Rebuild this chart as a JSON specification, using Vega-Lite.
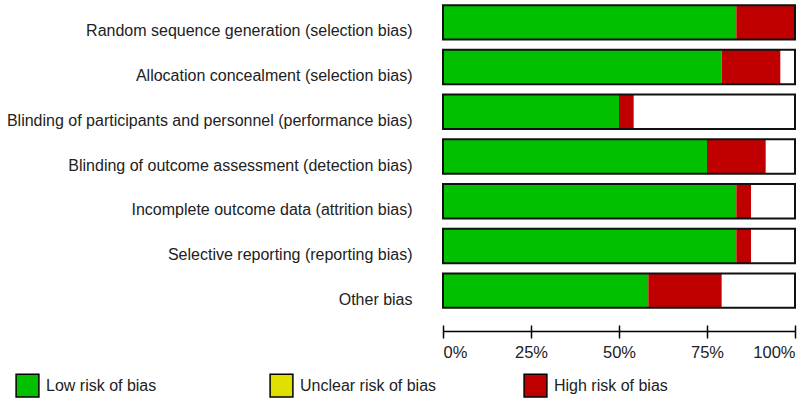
{
  "$schema": "https://vega.github.io/schema/vega-lite/v6.json",
  "autosize": "none",
  "width": 352,
  "height": 313,
  "padding": {"left": 443, "top": 0, "right": 5, "bottom": 93},
  "background": "white",
  "config": {"view": {"stroke": null}, "font": "Liberation Sans"},
  "data": {"values": [
    {"domain": "Random sequence generation (selection bias)", "risk": "Low risk of bias", "pct": 83.33},
    {"domain": "Random sequence generation (selection bias)", "risk": "Unclear risk of bias", "pct": 0},
    {"domain": "Random sequence generation (selection bias)", "risk": "High risk of bias", "pct": 16.67},
    {"domain": "Allocation concealment (selection bias)", "risk": "Low risk of bias", "pct": 79.17},
    {"domain": "Allocation concealment (selection bias)", "risk": "Unclear risk of bias", "pct": 4.17},
    {"domain": "Allocation concealment (selection bias)", "risk": "High risk of bias", "pct": 16.66},
    {"domain": "Blinding of participants and personnel (performance bias)", "risk": "Low risk of bias", "pct": 50},
    {"domain": "Blinding of participants and personnel (performance bias)", "risk": "Unclear risk of bias", "pct": 45.83},
    {"domain": "Blinding of participants and personnel (performance bias)", "risk": "High risk of bias", "pct": 4.17},
    {"domain": "Blinding of outcome assessment (detection bias)", "risk": "Low risk of bias", "pct": 75},
    {"domain": "Blinding of outcome assessment (detection bias)", "risk": "Unclear risk of bias", "pct": 8.33},
    {"domain": "Blinding of outcome assessment (detection bias)", "risk": "High risk of bias", "pct": 16.67},
    {"domain": "Incomplete outcome data (attrition bias)", "risk": "Low risk of bias", "pct": 83.33},
    {"domain": "Incomplete outcome data (attrition bias)", "risk": "Unclear risk of bias", "pct": 12.5},
    {"domain": "Incomplete outcome data (attrition bias)", "risk": "High risk of bias", "pct": 4.17},
    {"domain": "Selective reporting (reporting bias)", "risk": "Low risk of bias", "pct": 83.33},
    {"domain": "Selective reporting (reporting bias)", "risk": "Unclear risk of bias", "pct": 12.5},
    {"domain": "Selective reporting (reporting bias)", "risk": "High risk of bias", "pct": 4.17},
    {"domain": "Other bias", "risk": "Low risk of bias", "pct": 58.33},
    {"domain": "Other bias", "risk": "Unclear risk of bias", "pct": 20.84},
    {"domain": "Other bias", "risk": "High risk of bias", "pct": 20.83}
  ]},
  "resolve": {"axis": {"x": "independent"}},
  "layer": [
    {
      "transform": [{"filter": "datum.risk !== 'Unclear risk of bias'"}],
      "mark": {"type": "bar"},
      "encoding": {
        "y": {"field": "domain", "type": "nominal", "sort": null,
              "scale": {"paddingInner": 0.23, "paddingOuter": 0.115},
              "axis": {"title": null, "domain": false, "ticks": false, "labelPadding": 31, "labelLimit": 0, "labelOffset": 9,
                       "labelFontSize": 16, "labelColor": "#222222", "labelFont": "Liberation Sans"}},
        "x": {"field": "pct", "type": "quantitative", "stack": "zero",
              "scale": {"domain": [0, 100], "nice": false},
              "axis": {"orient": "bottom", "offset": 18, "values": [0, 25, 50, 75, 100], "labelExpr": "datum.value + '%'",
                       "title": null, "grid": false, "domain": true, "domainColor": "#000000", "domainWidth": 1.5,
                       "tickColor": "#000000", "tickWidth": 1.5, "tickSize": 7, "labelFlush": true,
                       "labelPadding": 6, "labelFontSize": 16.5, "labelColor": "#222222", "labelFont": "Liberation Sans"}},
        "order": {"field": "risk", "sort": "descending"},
        "color": {"field": "risk", "type": "nominal",
                  "scale": {"domain": ["Low risk of bias", "Unclear risk of bias", "High risk of bias"],
                            "range": ["#00C000", "#E0E000", "#C00000"]},
                  "legend": {"title": null, "orient": "none", "legendX": -428, "legendY": 373, "direction": "horizontal",
                             "columns": 3, "gridAlign": "all", "columnPadding": 84, "padding": 0,
                             "symbolType": "square", "symbolSize": 520, "symbolStrokeColor": "#000000", "symbolStrokeWidth": 1.5,
                             "symbolOpacity": 1, "labelFontSize": 16, "labelColor": "#222222", "labelOffset": 6,
                             "labelFont": "Liberation Sans", "labelLimit": 0}}
      }
    },
    {
      "mark": {"type": "bar", "fillOpacity": 0, "stroke": "#111111", "strokeWidth": 2},
      "encoding": {
        "y": {"field": "domain", "type": "nominal", "sort": null},
        "x": {"aggregate": "sum", "field": "pct", "type": "quantitative",
              "axis": {"orient": "bottom", "offset": 12, "values": [0, 25, 50, 75, 100], "title": null, "grid": false,
                       "domain": false, "labels": false, "tickColor": "#000000", "tickWidth": 1.5, "tickSize": 6}}
      }
    }
  ]
}
